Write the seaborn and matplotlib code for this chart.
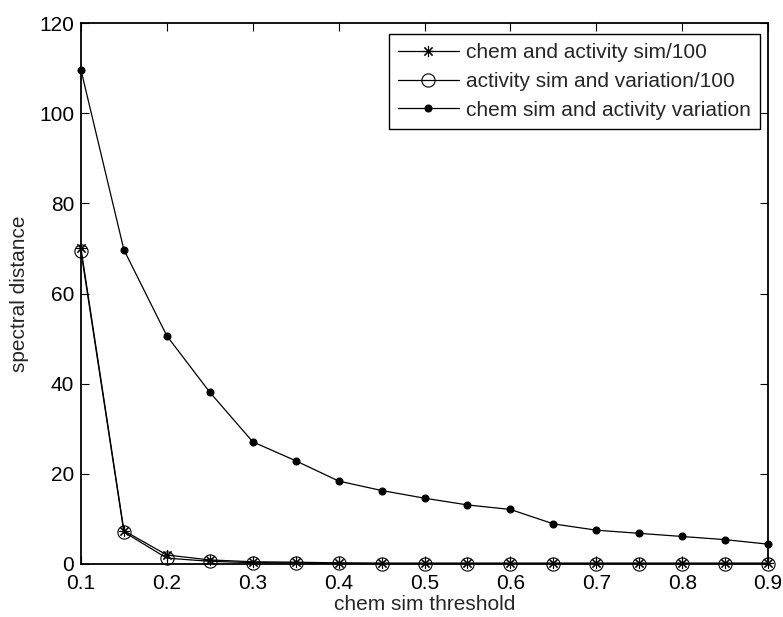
import matplotlib
matplotlib.use("Agg")
import matplotlib.pyplot as plt
import seaborn as sns
import numpy as np
import pandas as pd

thresholds = [0.10, 0.15, 0.20, 0.25, 0.30, 0.35, 0.40, 0.45, 0.50,
              0.55, 0.60, 0.65, 0.70, 0.75, 0.80, 0.85, 0.90]
chem_activity_sim = [70.0, 7.4, 2.0, 0.9, 0.5, 0.4, 0.25, 0.2, 0.2,
                     0.2, 0.2, 0.2, 0.2, 0.2, 0.2, 0.2, 0.2]
activity_sim_variation = [69.4, 7.1, 1.3, 0.6, 0.3, 0.25, 0.15, 0.1, 0.1,
                          0.1, 0.1, 0.1, 0.1, 0.1, 0.1, 0.1, 0.1]
chem_sim_activity_variation = [109.6, 69.7, 50.6, 38.1, 27.1, 22.9, 18.4, 16.3, 14.6,
                               13.1, 12.1, 8.9, 7.5, 6.8, 6.1, 5.4, 4.4]
series_names = ["chem and activity sim/100",
                "activity sim and variation/100",
                "chem sim and activity variation"]
x_ticks = [0.1, 0.2, 0.3, 0.4, 0.5, 0.6, 0.7, 0.8, 0.9]
y_ticks = [0, 20, 40, 60, 80, 100, 120]

sns.set_style("ticks")
plt.rcParams["font.family"] = ["Liberation Sans", "DejaVu Sans"]

FS = 15

fig = plt.figure(figsize=(7.83, 6.17), dpi=100)
ax = fig.add_axes([0.1034, 0.0859, 0.8776, 0.8768])

df = pd.DataFrame({"threshold": thresholds,
                   series_names[0]: chem_activity_sim,
                   series_names[1]: activity_sim_variation,
                   series_names[2]: chem_sim_activity_variation})

styles = [
    dict(marker=(8, 2, 0), markersize=8, markeredgewidth=0.8),
    dict(marker="o", markersize=9.5, markerfacecolor="none", markeredgewidth=0.8),
    dict(marker="o", markersize=5, markerfacecolor="black", markeredgewidth=0.8),
]
for name, st in zip(series_names, styles):
    sns.lineplot(data=df, x="threshold", y=name, ax=ax, color="black",
                 linewidth=0.9, markeredgecolor="black", label=name,
                 clip_on=False, **st)

ax.set_xlim(0.1, 0.9)
ax.set_ylim(0, 120)
ax.set_xticks(x_ticks)
ax.set_xticklabels([f"{t:.1f}" for t in x_ticks])
ax.set_yticks(y_ticks)
ax.set_yticklabels([str(t) for t in y_ticks])
ax.tick_params(direction="in", length=6, width=0.8, labelsize=FS,
               top=True, right=True, colors="black")
ax.tick_params(axis="x", pad=7)
ax.tick_params(axis="y", pad=5)
for sp in ax.spines.values():
    sp.set_visible(True)
    sp.set_linewidth(1.3)
    sp.set_color("black")

ax.set_xlabel("chem sim threshold", fontsize=FS, labelpad=2)
ax.set_ylabel("spectral distance", fontsize=FS, labelpad=7)

leg = ax.legend(loc="upper right", bbox_to_anchor=(0.9884, 0.9797),
                borderaxespad=0, fontsize=FS, frameon=True, fancybox=False,
                edgecolor="black", framealpha=1, handlelength=2.9,
                labelspacing=0.46, borderpad=0.45, handletextpad=0.35)
leg.get_frame().set_linewidth(1.0)

fig.savefig("out.png", dpi=100)
